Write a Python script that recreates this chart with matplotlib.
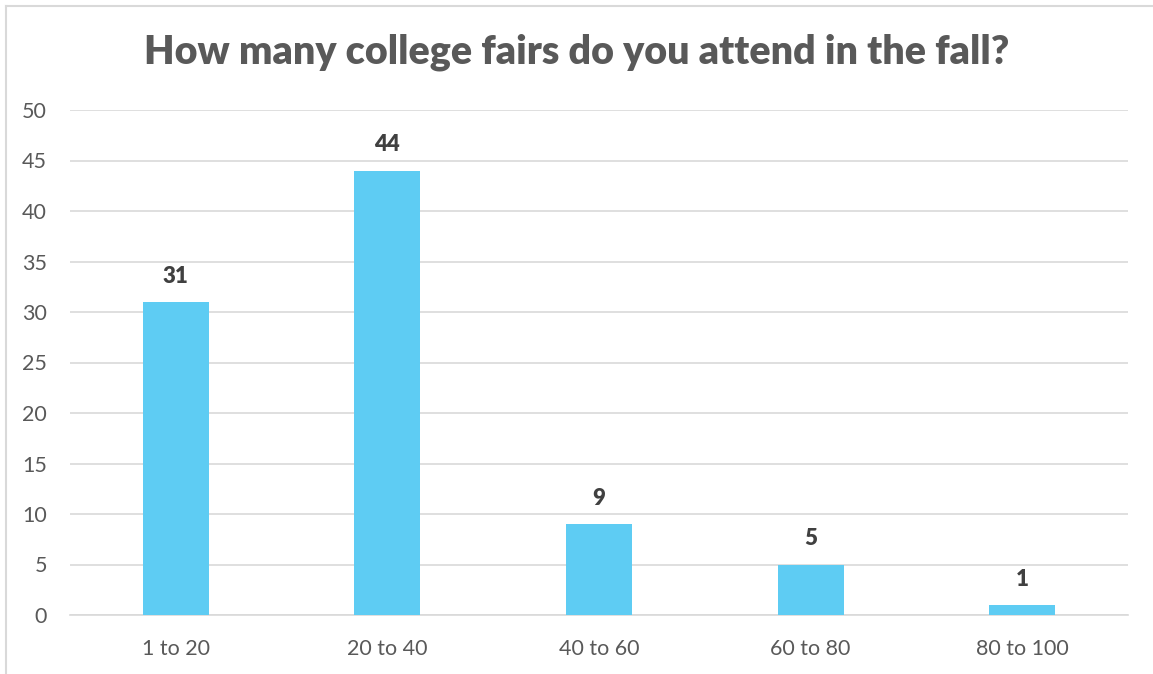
import matplotlib
matplotlib.use("Agg")
import matplotlib.pyplot as plt
from matplotlib.lines import Line2D

categories = ["1 to 20", "20 to 40", "40 to 60", "60 to 80", "80 to 100"]
counts = [31, 44, 9, 5, 1]
y_ticks = [0, 5, 10, 15, 20, 25, 30, 35, 40, 45, 50]
title = "How many college fairs do you attend in the fall?"

plt.rcParams["font.family"] = ["Lato", "DejaVu Sans"]

W, H = 1153, 674
fig = plt.figure(figsize=(W / 100, H / 100), dpi=100)
ax = fig.add_axes([70 / W, 1 - 615 / H, (1128 - 70) / W, (615 - 110) / H])

x = list(range(len(categories)))
bars = ax.bar(x, counts, width=0.312, color="#5ECCF3", zorder=3)

ax.set_xlim(-0.5, len(categories) - 0.5)
ax.set_ylim(0, 50)
ax.set_yticks(y_ticks)
ax.set_xticks(x)
ax.set_xticklabels(categories)
ax.grid(axis="y", color="#D9D9D9", linewidth=1.2, zorder=0)
ax.set_axisbelow(True)
for s in ["top", "right", "left"]:
    ax.spines[s].set_visible(False)
ax.spines["bottom"].set_color("#D9D9D9")
ax.spines["bottom"].set_linewidth(1.2)
ax.tick_params(axis="both", length=0, labelsize=15.5, labelcolor="#595959")
ax.tick_params(axis="x", pad=17)
ax.tick_params(axis="y", pad=16.5)

for xi, v in zip(x, counts):
    ax.annotate(str(v), (xi, v), xytext=(0, 11), textcoords="offset points",
                ha="center", va="bottom", fontsize=16, fontweight="heavy",
                color="#404040")

fig.text(0.5, 1 - 52 / H, title, ha="center", va="center", fontsize=28.4,
         fontweight="heavy", color="#595959")

# chart frame edges
fig.add_artist(Line2D([6 / W, 6 / W], [0, 1 - 6 / H], color="#D9D9D9", linewidth=1.5))
fig.add_artist(Line2D([6 / W, 1], [1 - 6 / H, 1 - 6 / H], color="#D9D9D9", linewidth=1.5))

fig.savefig("out.png", dpi=100)
